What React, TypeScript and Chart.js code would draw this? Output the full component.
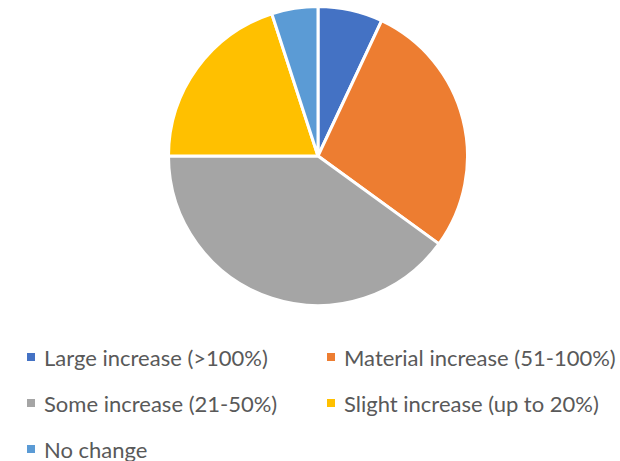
import React, { useEffect, useRef } from "react";
import { Chart, registerables } from "chart.js";

Chart.register(...registerables);

const categories = [
  "Large increase (>100%)",
  "Material increase (51-100%)",
  "Some increase (21-50%)",
  "Slight increase (up to 20%)",
  "No change",
];
const values = [7, 28, 40, 20, 5];
const colors = ["#4472C4", "#ED7D31", "#A5A5A5", "#FFC000", "#5B9BD5"];

const FONT = "Lato, 'Open Sans', sans-serif";

export default function App() {
  const ref = useRef<HTMLCanvasElement | null>(null);

  useEffect(() => {
    if (!ref.current) return;
    const chart = new Chart(ref.current, {
      type: "pie",
      data: {
        labels: categories,
        datasets: [
          {
            data: values,
            backgroundColor: colors,
            borderColor: "#ffffff",
            borderWidth: 3,
          },
        ],
      },
      options: {
        animation: false,
        responsive: false,
        maintainAspectRatio: false,
        layout: { padding: 0 },
        plugins: {
          legend: { display: false },
          tooltip: { enabled: false },
        },
      },
    });
    return () => chart.destroy();
  }, []);

  const colLeft = [27, 327];
  const rowCenter = [357, 403, 449];

  return (
    <div
      style={{
        position: "absolute",
        left: 0,
        top: 0,
        width: 620,
        height: 461,
        background: "#ffffff",
        overflow: "hidden",
      }}
    >
      <canvas
        ref={ref}
        width={302}
        height={302}
        style={{ position: "absolute", left: 167, top: 5, width: 302, height: 302 }}
      />
      {categories.map((c, i) => {
        const col = i % 2;
        const row = Math.floor(i / 2);
        return (
          <div
            key={c}
            style={{
              position: "absolute",
              left: colLeft[col],
              top: rowCenter[row] - 15,
              height: 30,
              display: "flex",
              alignItems: "center",
              whiteSpace: "nowrap",
              fontFamily: FONT,
              fontSize: 22,
              color: "#595959",
            }}
          >
            <span
              style={{
                display: "inline-block",
                width: 8,
                height: 8,
                background: colors[i],
                marginRight: 9,
              }}
            />
            <span>{c}</span>
          </div>
        );
      })}
    </div>
  );
}
